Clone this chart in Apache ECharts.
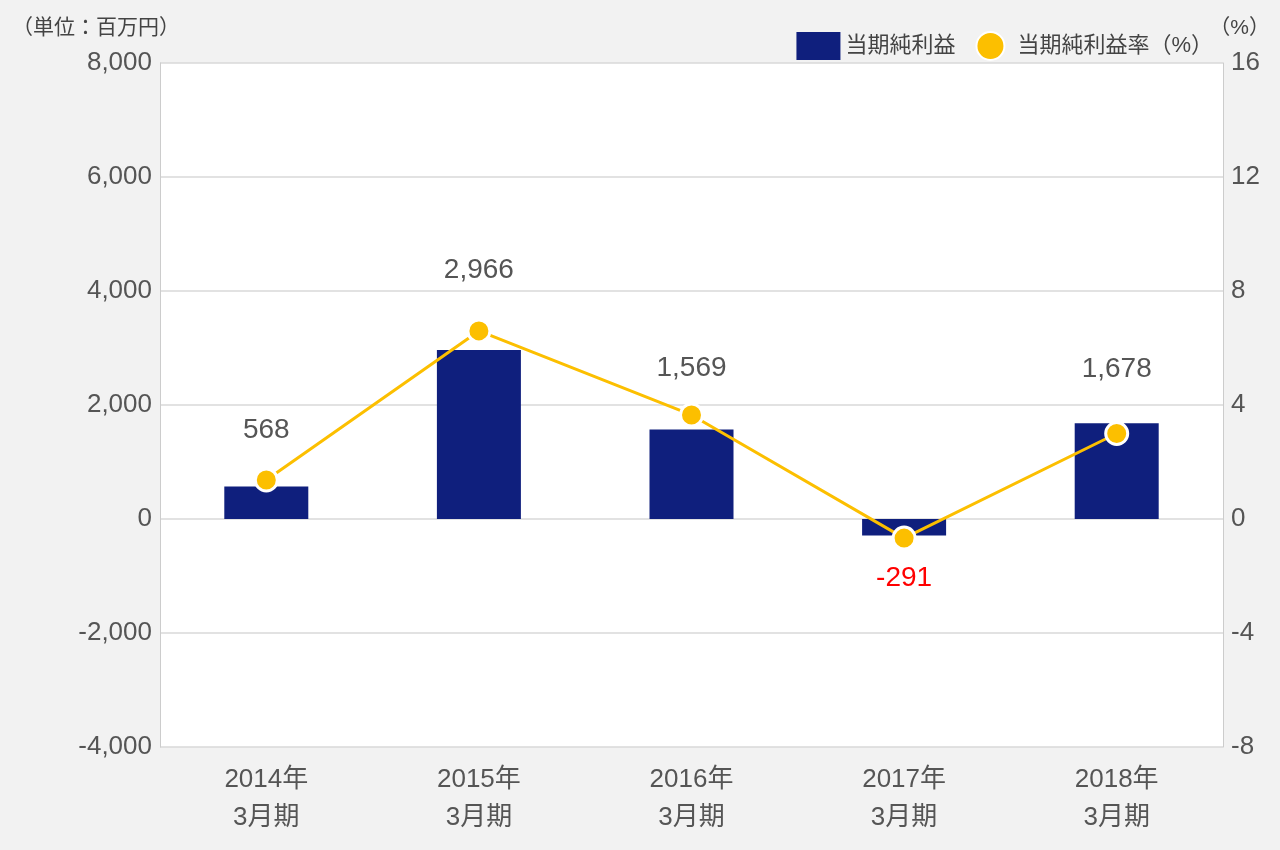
<!DOCTYPE html><html><head><meta charset="utf-8">
<script src="https://cdn.jsdelivr.net/npm/echarts@6/dist/echarts.min.js"></script>
<style>body{margin:0;background:#f2f2f2}#c{width:1280px;height:850px}</style></head><body><div id="c"></div>
<script>
const categories=['2014年\n3月期','2015年\n3月期','2016年\n3月期','2017年\n3月期','2018年\n3月期'];
const netIncome=[568,2966,1569,-291,1678];
const netMargin=[1.37,6.6,3.65,-0.67,3.0];
const labelDist=[42,66,47,29,40];
const F='"Liberation Sans","Noto Sans CJK JP",sans-serif';
const ch=echarts.init(document.getElementById('c'));
ch.setOption({
 backgroundColor:'#f2f2f2',textStyle:{fontFamily:F},
 grid:{left:160,right:57,top:63,bottom:103,show:true,backgroundColor:'#fff',borderWidth:0},
 legend:{right:62,top:26,itemGap:20,itemWidth:44,itemHeight:28,textStyle:{fontSize:22,color:'#444',fontFamily:F},
  data:[{name:'当期純利益',icon:'rect'},{name:'当期純利益率（%）',icon:'circle'}]},
 graphic:[{type:'text',left:12,top:18,style:{text:'（単位：百万円）',fontSize:21,fill:'#444',fontFamily:F}},
  {type:'text',right:10,top:18,style:{text:'（%）',fontSize:21,fill:'#444',fontFamily:F}}],
 xAxis:{type:'category',data:categories,axisLine:{show:false},axisTick:{show:false},
  axisLabel:{fontSize:26,color:'#555',lineHeight:38,margin:14,fontFamily:F}},
 yAxis:[{type:'value',min:-4000,max:8000,interval:2000,axisLine:{show:true,lineStyle:{color:'#ccc'}},
   axisLabel:{fontSize:26,color:'#555',fontFamily:F,formatter:v=>v.toLocaleString('en-US')},splitLine:{lineStyle:{color:'#d8d8d8',width:1.5}}},
  {type:'value',min:-8,max:16,interval:4,axisLine:{show:true,lineStyle:{color:'#ccc'}},
   axisLabel:{fontSize:26,color:'#555',fontFamily:F},splitLine:{show:false}}],
 series:[{name:'当期純利益',type:'bar',barWidth:84,itemStyle:{color:'#0f1f7d'},
   data:netIncome.map((v,i)=>({value:v,label:{show:true,position:v<0?'bottom':'top',distance:labelDist[i],
    color:v<0?'#f00':'#555',fontSize:28,fontFamily:F,formatter:p=>p.value.toLocaleString('en-US')}}))},
  {name:'当期純利益率（%）',type:'line',yAxisIndex:1,data:netMargin,symbol:'circle',symbolSize:22,
   lineStyle:{color:'#fcbf00',width:3},itemStyle:{color:'#fcbf00',borderColor:'#fff',borderWidth:3}}]
});
</script></body></html>
